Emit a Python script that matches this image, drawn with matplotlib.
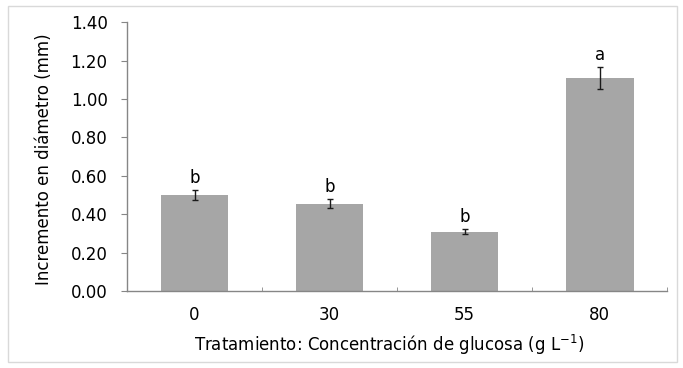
import matplotlib
matplotlib.use("Agg")
import matplotlib.pyplot as plt
from matplotlib.patches import Rectangle
import numpy as np

categories = ["0", "30", "55", "80"]
means = [0.50, 0.455, 0.31, 1.11]
errors = [0.027, 0.024, 0.013, 0.056]
letters = ["b", "b", "b", "a"]

plt.rcParams["font.family"] = "DejaVu Sans"
fs = 12

fig = plt.figure(figsize=(6.83, 3.68), dpi=100)
ax = fig.add_axes([0.186, 0.209, 0.791, 0.731])

x = np.arange(len(categories))
ax.bar(x, means, width=0.5, color="#a6a6a6", zorder=2)
ax.errorbar(x, means, yerr=errors, fmt="none", ecolor="#1a1a1a",
            elinewidth=1.0, capsize=2.5, capthick=1.0, zorder=3)

for xi, m, e, lab in zip(x, means, errors, letters):
    ax.annotate(lab, (xi, m + e), xytext=(0, 2), textcoords="offset points",
                ha="center", va="bottom", fontsize=fs)

ax.set_xlim(-0.5, len(categories) - 0.5)
ax.set_ylim(0, 1.4)
ax.set_yticks(np.arange(0, 1.41, 0.2))
ax.set_yticklabels([f"{v:.2f}" for v in np.arange(0, 1.41, 0.2)], fontsize=fs)
ax.set_xticks(x)
ax.set_xticklabels(categories, fontsize=fs)
ax.set_xticks(np.arange(-0.5, len(categories), 1.0), minor=True)

ax.tick_params(axis="x", which="major", length=0, pad=11)
ax.tick_params(axis="x", which="minor", length=3, direction="in", color="#868686")
ax.tick_params(axis="y", length=4, color="#868686", pad=10)

for s in ["top", "right"]:
    ax.spines[s].set_visible(False)
for s in ["left", "bottom"]:
    ax.spines[s].set_color("#868686")
    ax.spines[s].set_linewidth(1.0)

ax.set_ylabel("Incremento en diámetro (mm)", fontsize=fs)
ax.yaxis.set_label_coords(-0.137, 0.49)
ax.set_xlabel("Tratamiento: Concentración de glucosa (g L$^{\\mathregular{-1}}$)",
              fontsize=fs)
ax.xaxis.set_label_coords(0.485, -0.155)

fig.patches.append(Rectangle((8 / 683, 6 / 368), 669 / 683, 356 / 368,
                             transform=fig.transFigure, fill=False,
                             edgecolor="#d9d9d9", linewidth=1.0))

fig.savefig("out.png", dpi=100)
